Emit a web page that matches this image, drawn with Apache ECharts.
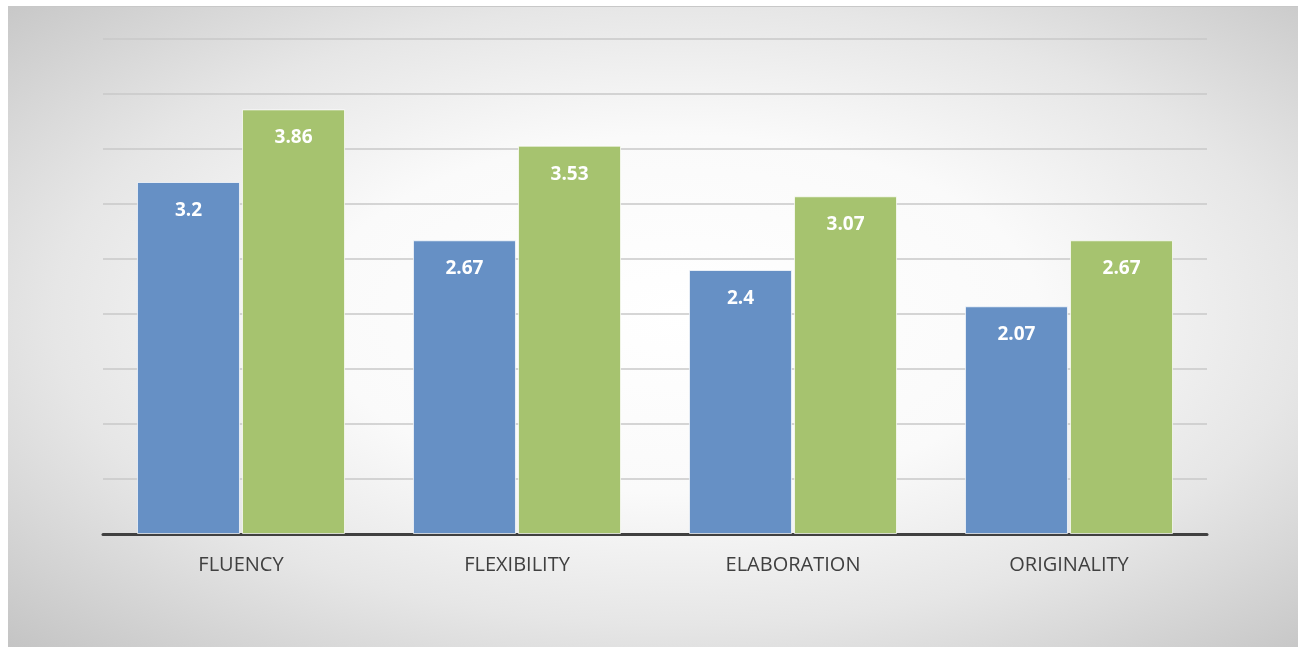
<!doctype html>
<html>
<head>
<meta charset="utf-8">
<title>Chart</title>
<script src="https://cdn.jsdelivr.net/npm/echarts@6/dist/echarts.min.js"></script>
<style>
  html, body { margin: 0; padding: 0; background: #fff; }
  #main {
    position: absolute; left: 8px; top: 6px; width: 1290px; height: 641px;
    background: radial-gradient(ellipse farthest-corner at 52% 48%, #ffffff 0%, #fafafa 38%, #e6e6e6 66%, #c4c4c4 100%);
    border-top: 1px solid #c8c8c8;
    box-sizing: border-box;
  }
</style>
</head>
<body>
<div id="main"></div>
<script>
var categories = ['FLUENCY', 'FLEXIBILITY', 'ELABORATION', 'ORIGINALITY'];
var seriesA = [3.2, 2.67, 2.4, 2.07];
var seriesB = [3.86, 3.53, 3.07, 2.67];

var chart = echarts.init(document.getElementById('main'));

var labelStyle = {
    show: true,
    position: 'insideTop',
    distance: 19,
    color: '#fff',
    fontWeight: 'bold',
    fontSize: 19,
    fontFamily: 'Open Sans'
};

var option = {
    backgroundColor: 'transparent',
    animation: false,
    grid: { left: 95, right: 91, top: 32, bottom: 113 },
    xAxis: {
        type: 'category',
        data: categories,
        axisLine: { lineStyle: { color: '#404040', width: 3 } },
        axisTick: { show: false },
        axisLabel: { color: '#404040', fontSize: 20, fontFamily: 'Open Sans', margin: 21 }
    },
    yAxis: {
        type: 'value',
        min: 0,
        max: 4.5,
        interval: 0.5,
        axisLabel: { show: false },
        axisLine: { show: false },
        axisTick: { show: false },
        splitLine: { lineStyle: { color: '#c8c8c8', width: 1.5 } }
    },
    series: [
        {
            name: 'Series 1',
            type: 'bar',
            data: seriesA,
            barWidth: 103,
            barGap: '2%',
            itemStyle: { color: '#6690c5', borderColor: 'rgba(255,255,255,0.7)', borderWidth: 1 },
            label: labelStyle
        },
        {
            name: 'Series 2',
            type: 'bar',
            data: seriesB,
            barWidth: 103,
            barGap: '2%',
            itemStyle: { color: '#a6c36f', borderColor: 'rgba(255,255,255,0.7)', borderWidth: 1 },
            label: labelStyle
        }
    ]
};
chart.setOption(option);
</script>
</body>
</html>
